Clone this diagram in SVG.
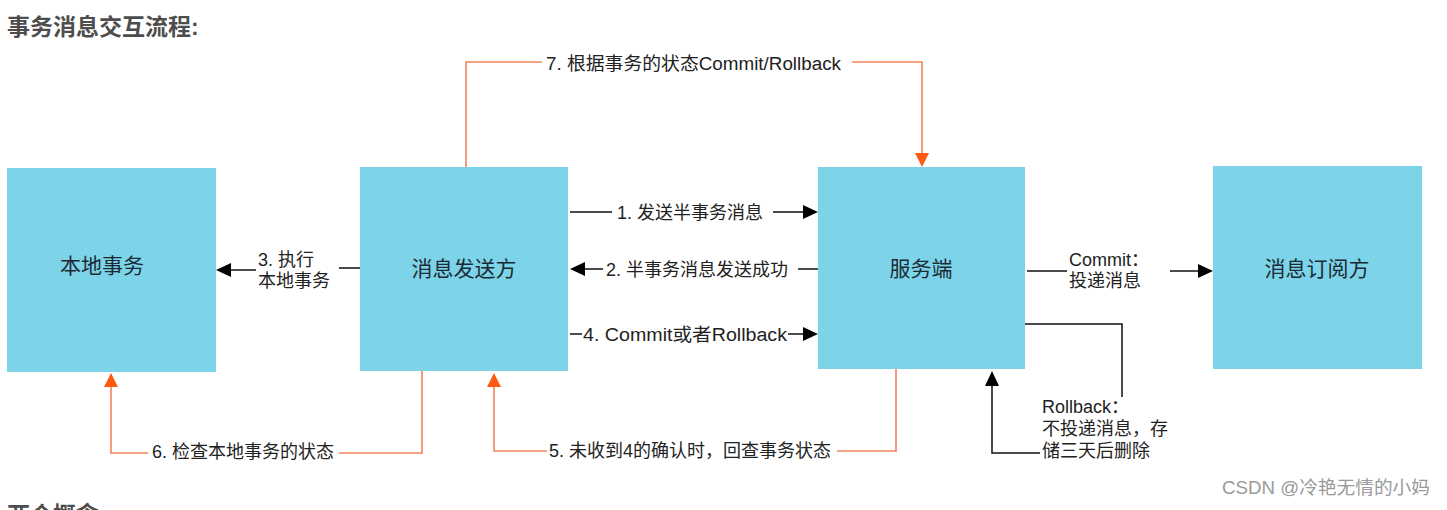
<svg xmlns="http://www.w3.org/2000/svg" width="1447" height="510" viewBox="0 0 1447 510">
<style>
.box{fill:#7dd3e7}
.bt{font-family:"Liberation Sans","Noto Sans CJK SC",sans-serif;font-size:21px;fill:#1b2a36;text-anchor:middle}
.lb{font-family:"Liberation Sans","Noto Sans CJK SC",sans-serif;font-size:18px;fill:#222}
.hd{font-family:"Liberation Sans","Noto Sans CJK SC",sans-serif;font-size:23px;font-weight:bold;fill:#4d4d4d}
.k{stroke:#111;stroke-width:1.5;fill:none}
.o{stroke:#f0845a;stroke-width:1.6;fill:none}
.ah{fill:#000}
.oh{fill:#ff5a12}
</style>
<rect width="1447" height="510" fill="#fff"/>
<text class="hd" x="7" y="35">事务消息交互流程:</text>
<text class="hd" x="7" y="523">两个概念:</text>

<g id="node-local">
<rect class="box" x="7" y="168" width="209" height="204"/>
<text class="bt" x="102" y="273">本地事务</text>
</g>
<g id="node-sender">
<rect class="box" x="360" y="167" width="208" height="204"/>
<text class="bt" x="464" y="276">消息发送方</text>
</g>
<g id="node-server">
<rect class="box" x="818" y="167" width="207" height="202"/>
<text class="bt" x="921" y="276">服务端</text>
</g>
<g id="node-subscriber">
<rect class="box" x="1213" y="166" width="209" height="203"/>
<text class="bt" x="1317" y="276">消息订阅方</text>
</g>

<g id="connectors">
<path class="o" d="M466 167 V62 H542 M852 62 H922 V154"/>
<polygon class="oh" points="915,153 929,153 922,167"/>
<text class="lb" x="546" y="70" textLength="295" lengthAdjust="spacingAndGlyphs">7. 根据事务的状态Commit/Rollback</text>
<path class="k" d="M570 212 H612 M773 212 H805"/>
<polygon class="ah" points="803,205 818,212 803,219"/>
<text class="lb" x="617" y="219">1. 发送半事务消息</text>
<path class="k" d="M583 269 H603 M798 269 H818"/>
<polygon class="ah" points="585,262 570,269 585,276"/>
<text class="lb" x="606" y="276">2. 半事务消息发送成功</text>
<path class="k" d="M570 334 H582 M788 334 H805"/>
<polygon class="ah" points="803,327 818,334 803,341"/>
<text class="lb" x="583" y="341" textLength="204" lengthAdjust="spacingAndGlyphs">4. Commit或者Rollback</text>
<path class="k" d="M229 270 H256 M339 268 H360"/>
<polygon class="ah" points="231,263 216,270 231,277"/>
<text class="lb" x="258" y="266">3. 执行</text>
<text class="lb" x="258" y="287">本地事务</text>
<path class="k" d="M1027 271 H1067 M1170 271 H1200"/>
<polygon class="ah" points="1198,264 1213,271 1198,278"/>
<text class="lb" x="1069" y="266">Commit：</text>
<text class="lb" x="1069" y="287">投递消息</text>
<path class="k" d="M1025 324 H1122 V397 M1040 453 H992 V384"/>
<polygon class="ah" points="985,386 992,371 999,386"/>
<text class="lb" x="1042" y="413">Rollback：</text>
<text class="lb" x="1042" y="435">不投递消息，存</text>
<text class="lb" x="1042" y="457">储三天后删除</text>
<path class="o" d="M422 371 V453 H339 M148 453 H111 V386"/>
<polygon class="oh" points="104,387 118,387 111,373"/>
<text class="lb" x="152" y="458">6. 检查本地事务的状态</text>
<path class="o" d="M896 369 V451 H837 M547 451 H494 V386"/>
<polygon class="oh" points="487,387 501,387 494,373"/>
<text class="lb" x="549" y="457">5. 未收到4的确认时，回查事务状态</text>
</g>

<text x="1222" y="494" style="font-family:'Liberation Sans','Noto Sans CJK SC',sans-serif;font-size:18px;fill:#9a9a9a" textLength="208" lengthAdjust="spacingAndGlyphs">CSDN @冷艳无情的小妈</text>
</svg>
